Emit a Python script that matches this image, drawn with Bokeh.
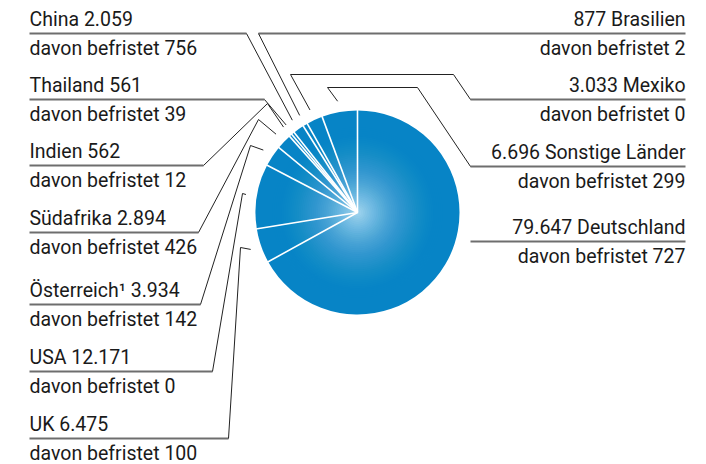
import numpy as np
from bokeh.plotting import figure
from bokeh.models import ColumnDataSource, Range1d
from bokeh.core.properties import value
from bokeh.embed import file_html
from bokeh.resources import INLINE

# ---------------- data ----------------
countries = ["Deutschland", "UK", "USA", "Österreich¹", "Südafrika", "Indien",
             "Thailand", "China", "Brasilien", "Mexiko", "Sonstige Länder"]
employees = [79647, 6475, 12171, 3934, 2894, 562, 561, 2059, 877, 3033, 6696]
fixed_term = [727, 100, 0, 142, 426, 12, 39, 756, 2, 0, 299]
label_side = ["right", "left", "left", "left", "left", "left",
              "left", "left", "right", "right", "right"]

# ---------------- layout (reference pixel coordinates) ----------------
W, H = 706, 464
def Y(y):
    return H - y

CX, CY, R = 357, 212, 102
R_END = 113
BASE = "#0784c6"
LIGHT = "#b8e4f8"
FS = "19.5px"
L1_OFF, L2_OFF = -14.5, 15.0

layout = {
    "Deutschland":     dict(uy=241, x0=470, x1=685, elbows=None),
    "UK":              dict(uy=438, x0=29, x1=228, elbows=[(240, 247)]),
    "USA":             dict(uy=371, x0=29, x1=212, elbows=[(242, 193)]),
    "Österreich¹":     dict(uy=304, x0=29, x1=200, elbows=[(250, 145)]),
    "Südafrika":       dict(uy=232, x0=29, x1=198, elbows=[(258, 119)]),
    "Indien":          dict(uy=165, x0=29, x1=203, elbows=[(267, 103)]),
    "Thailand":        dict(uy=99,  x0=29, x1=264, elbows=[]),
    "China":           dict(uy=33,  x0=29, x1=246, elbows=[]),
    "Brasilien":       dict(uy=33,  x0=258, x1=685, elbows=[]),
    "Mexiko":          dict(uy=99,  x0=470, x1=685, elbows=[(453, 74), (290, 74)]),
    "Sonstige Länder": dict(uy=166, x0=470, x1=685, elbows=[(417, 87), (327, 87)]),
}

def fmt(v):
    return f"{v:,}".replace(",", ".")

# ---------------- figure ----------------
p = figure(width=W, height=H,
           x_range=Range1d(0, W), y_range=Range1d(0, H),
           x_axis_type=None, y_axis_type=None,
           toolbar_location=None, output_backend="svg",
           min_border=0, outline_line_color=None,
           background_fill_color="white", border_fill_color="white")

# pie wedges (clockwise from 12 o'clock)
total = float(sum(employees))
cum = np.concatenate([[0.0], np.cumsum(employees)]) / total * 360.0
b0, b1 = cum[:-1], cum[1:]
mid = (b0 + b1) / 2.0

wsrc = ColumnDataSource(dict(
    start=np.radians(90.0 - b1), end=np.radians(90.0 - b0),
    name=countries))
p.wedge(x=CX, y=Y(CY), radius=R, start_angle="start", end_angle="end",
        direction="anticlock", fill_color=BASE, line_color=None, source=wsrc)

# radial light gradient (stacked translucent discs)
N = 50
RG = 95.0
radii = RG * np.arange(N, 0, -1) / N
def target(d):
    return 0.9 * np.clip(1 - d / RG, 0, 1) ** 1.7
alphas = []
prev = 0.0
for k, r in enumerate(radii):
    inner = radii[k + 1] if k + 1 < N else 0.0
    t = target((r + inner) / 2.0)
    a = 1 - (1 - t) / (1 - prev)
    alphas.append(max(a, 0.0))
    prev = t
p.circle(x=[CX] * N, y=[Y(CY)] * N, radius=radii, fill_color=LIGHT,
         fill_alpha=alphas, line_color=None)

# white separators at wedge boundaries
bounds = np.radians(cum[:-1])
p.segment(x0=[CX] * len(bounds), y0=[Y(CY)] * len(bounds),
          x1=CX + (R + 1) * np.sin(bounds),
          y1=[Y(v) for v in CY - (R + 1) * np.cos(bounds)],
          line_color="white", line_width=1.6)

# labels, underlines and leader lines
mid_r = np.radians(mid)
for i, name in enumerate(countries):
    L = layout[name]
    uy = L["uy"]
    side = label_side[i]
    if side == "left":
        line1 = f"{name} {fmt(employees[i])}"
        tx, align = 29, "left"
        start = (L["x1"], uy)
    else:
        line1 = f"{fmt(employees[i])} {name}"
        tx, align = 685, "right"
        start = (L["x0"], uy)
    line2 = f"davon befristet {fmt(fixed_term[i])}"

    p.text(x=[tx], y=[Y(uy + L1_OFF)], text=[line1], text_align=align,
           text_baseline="alphabetic", text_font=value("Roboto"),
           text_font_size=FS, text_color="#1a1a1a")
    p.text(x=[tx], y=[Y(uy + L2_OFF)], text=[line2], text_align=align,
           text_baseline="alphabetic", text_font=value("Roboto"),
           text_font_size=FS, text_color="#1a1a1a")

    p.line(x=[L["x0"], L["x1"]], y=[Y(uy), Y(uy)], line_color="#6e6e6e",
           line_width=2)

    if L["elbows"] is not None:
        ex = CX + R_END * np.sin(mid_r[i])
        ey = CY - R_END * np.cos(mid_r[i])
        pts = [start] + list(L["elbows"]) + [(ex, ey)]
        p.line(x=[q[0] for q in pts], y=[Y(q[1]) for q in pts],
               line_color="#222222", line_width=1)

open("out.html", "w").write(file_html(p, INLINE))
